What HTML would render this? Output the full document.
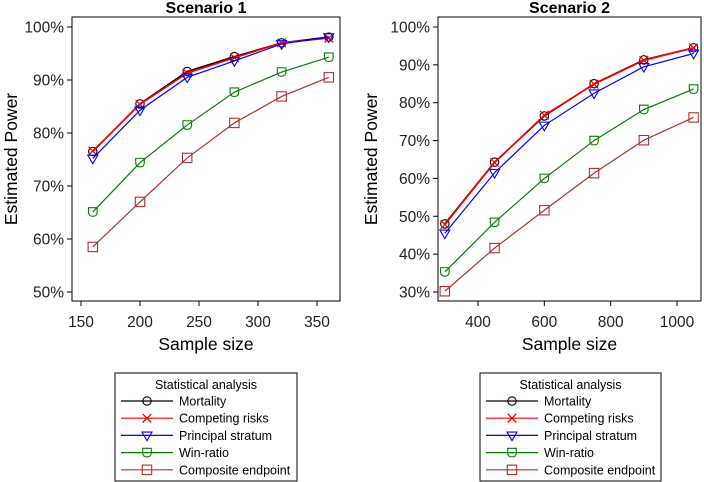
<!DOCTYPE html>
<html><head><meta charset="utf-8">
<style>
html,body{margin:0;padding:0;background:#fff;}
svg{display:block;font-family:"Liberation Sans",Arial,sans-serif;}
</style></head>
<body>
<svg id="chart" width="704" height="482" viewBox="0 0 704 482"></svg>
<script>
const seriesNames = ["Mortality","Competing risks","Principal stratum","Win-ratio","Composite endpoint"];
const seriesColors = ["#000000","#ff0000","#0000ff","#008000","#b03030"];
const seriesMarkers = ["circle","cross","triangle","shield","square"];

const s1X = [160,200,240,280,320,360];
const s1Mortality = [76.5,85.5,91.6,94.4,97.0,98.1];
const s1Competing = [76.6,85.4,91.3,94.2,97.0,97.9];
const s1Principal = [75.2,84.3,90.5,93.6,96.8,98.1];
const s1WinRatio = [65.1,74.4,81.5,87.7,91.5,94.3];
const s1Composite = [58.5,67.0,75.3,81.9,86.9,90.5];
const s1XTicks = [150,200,250,300,350];
const s1YTicks = [50,60,70,80,90,100];

const s2X = [300,450,600,750,900,1050];
const s2Mortality = [48.0,64.3,76.5,85.0,91.3,94.5];
const s2Competing = [47.8,64.2,76.7,84.9,91.2,94.5];
const s2Principal = [45.5,61.5,74.0,82.5,89.5,93.0];
const s2WinRatio = [35.3,48.4,60.0,70.0,78.2,83.6];
const s2Composite = [30.2,41.6,51.6,61.4,70.1,76.1];
const s2XTicks = [400,600,800,1000];
const s2YTicks = [30,40,50,60,70,80,90,100];

const NS="http://www.w3.org/2000/svg";
const svg=document.getElementById('chart');
function mk(tag,attrs,parent){const e=document.createElementNS(NS,tag);for(const k in attrs)e.setAttribute(k,attrs[k]);(parent||svg).appendChild(e);return e;}

function marker(g,type,x,y,color){
  let m;
  if(type==="circle") m=mk('circle',{cx:x,cy:y,r:4.2,fill:'none',stroke:color,'stroke-width':1.1},g);
  else if(type==="cross"){m=mk('path',{d:`M${x-4.3},${y-4.3}L${x+4.3},${y+4.3}M${x-4.3},${y+4.3}L${x+4.3},${y-4.3}`,stroke:color,'stroke-width':1.3,fill:'none'},g);}
  else if(type==="triangle") m=mk('path',{d:`M${x-5},${y-3.3}L${x+5},${y-3.3}L${x},${y+5.3}Z`,fill:'none',stroke:color,'stroke-width':1.1},g);
  else if(type==="shield") m=mk('path',{d:`M${x-4.3},${y-4.3}L${x+4.3},${y-4.3}L${x+4.3},${y}Q${x+4.3},${y+4.3} ${x},${y+4.3}Q${x-4.3},${y+4.3} ${x-4.3},${y}Z`,fill:'none',stroke:color,'stroke-width':1.1},g);
  else m=mk('rect',{x:x-4.7,y:y-4.7,width:9.4,height:9.4,fill:'none',stroke:color,'stroke-width':1.1},g);
  
  
}

function panel(cfg){
  const g=mk('g',{});
  
  
  const xs=v=>cfg.px0+(v-cfg.x0)*(cfg.px1-cfg.px0)/(cfg.x1-cfg.x0);
  const ys=v=>cfg.py0+(v-cfg.y0)*(cfg.py1-cfg.py0)/(cfg.y1-cfg.y0);
  const box=mk('rect',{x:cfg.L,y:cfg.T,width:cfg.R-cfg.L,height:cfg.B-cfg.T,fill:'none',stroke:'#000','stroke-width':1},g);
  
  const t=mk('text',{x:(cfg.L+cfg.R)/2,y:13,'text-anchor':'middle','font-size':16,'font-weight':'bold'},g);
  t.textContent=cfg.title;
  cfg.yt.forEach(v=>{const y=ys(v);mk('line',{x1:cfg.L-5,x2:cfg.L,y1:y,y2:y,stroke:'#000'},g);
    const l=mk('text',{x:cfg.L-8,y:y+5.5,'text-anchor':'end','font-size':15.5,fill:'#222'},g);l.textContent=v+'%';
    });
  cfg.xt.forEach(v=>{const x=xs(v);mk('line',{x1:x,x2:x,y1:cfg.B,y2:cfg.B+5,stroke:'#000'},g);
    const l=mk('text',{x:x,y:327,'text-anchor':'middle','font-size':15.5,fill:'#222'},g);l.textContent=v;
    });
  const xt=mk('text',{x:(cfg.L+cfg.R)/2,y:350,'text-anchor':'middle','font-size':17.5},g);xt.textContent='Sample size';
  
  const cy=(cfg.T+cfg.B)/2;
  const yt=mk('text',{x:cfg.yTitleX,y:cy,'text-anchor':'middle','font-size':17.5,transform:`rotate(-90 ${cfg.yTitleX} ${cy})`},g);
  yt.textContent='Estimated Power';
  cfg.series.forEach((vals,i)=>{
    const sg=mk('g',{},g);
    
    
    const d=vals.map((v,j)=>(j?'L':'M')+xs(cfg.xv[j])+','+ys(v)).join('');
    const p=mk('path',{d:d,fill:'none',stroke:seriesColors[i],'stroke-width':i<2?1.6:1.2},sg);
    
    vals.forEach((v,j)=>marker(sg,seriesMarkers[i],xs(cfg.xv[j]),ys(v),seriesColors[i]));
  });
  const lg=mk('g',{});
  
  mk('rect',{x:cfg.lx,y:373,width:cfg.lw,height:108,fill:'#fff',stroke:'#000'},lg);
  const lt=mk('text',{x:cfg.lx+cfg.lw/2,y:389,'text-anchor':'middle','font-size':12.5},lg);lt.textContent='Statistical analysis';
  seriesNames.forEach((n,i)=>{
    const ry=401+i*17.2;
    const e=mk('g',{},lg);
    mk('line',{x1:cfg.lx+6,x2:cfg.lx+58,y1:ry,y2:ry,stroke:seriesColors[i],'stroke-width':1.2},e);
    marker(e,seriesMarkers[i],cfg.lx+32,ry,seriesColors[i]);
    const tx=mk('text',{x:cfg.lx+64,y:ry+4.5,'font-size':12.5},e);tx.textContent=n;
  });
}

panel({name:'scenario-1-panel',title:'Scenario 1',L:72,R:340,T:17,B:301,
  x0:150,x1:350,px0:81,px1:317,y0:50,y1:100,py0:292,py1:27,
  xt:s1XTicks,yt:s1YTicks,xv:s1X,yTitleX:17,
  series:[s1Mortality,s1Competing,s1Principal,s1WinRatio,s1Composite],lx:115,lw:182});
panel({name:'scenario-2-panel',title:'Scenario 2',L:438,R:701,T:17,B:301,
  x0:400,x1:1000,px0:478,px1:677,y0:30,y1:100,py0:292,py1:27,
  xt:s2XTicks,yt:s2YTicks,xv:s2X,yTitleX:377,
  series:[s2Mortality,s2Competing,s2Principal,s2WinRatio,s2Composite],lx:480,lw:181});
</script>
</body></html>
